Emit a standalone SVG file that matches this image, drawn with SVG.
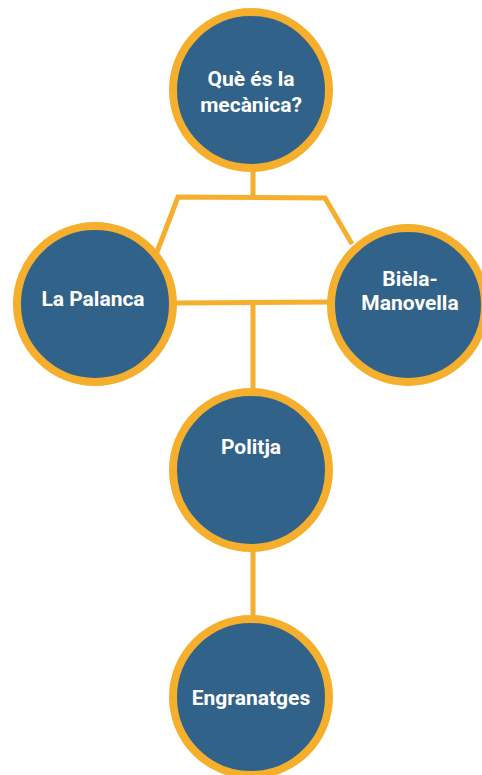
<svg xmlns="http://www.w3.org/2000/svg" width="482" height="775" viewBox="0 0 482 775">
<style>
.n{fill:#31638a;stroke:#f6ae2d;stroke-width:8}
.t{font-family:Roboto,"Liberation Sans",sans-serif;font-weight:bold;font-size:21px;fill:#ffffff;text-anchor:middle}
.c{fill:none;stroke:#f6ae2d;stroke-width:5;stroke-linejoin:miter}
</style>
<rect width="482" height="775" fill="#ffffff"/>
<g id="connectors">
<line class="c" x1="253" y1="170" x2="253" y2="197"/>
<polyline class="c" points="157,252 178,197 325,198 352,244"/>
<line class="c" x1="175" y1="303" x2="331" y2="302"/>
<line class="c" x1="253" y1="302" x2="253" y2="390"/>
<line class="c" x1="253" y1="550" x2="253" y2="618"/>
</g>
<g id="n1"><circle class="n" cx="251" cy="90" r="78"/><text class="t" x="251" y="86">Què és la</text><text class="t" x="251" y="112">mecànica?</text></g>
<g id="n2"><circle class="n" cx="95" cy="304" r="78"/><text class="t" x="93" y="306">La Palanca</text></g>
<g id="n3"><circle class="n" cx="408" cy="305" r="77"/><text class="t" x="410" y="286">Bièla-</text><text class="t" x="410" y="310">Manovella</text></g>
<g id="n4"><circle class="n" cx="251" cy="470" r="78"/><text class="t" x="251" y="454">Politja</text></g>
<g id="n5"><circle class="n" cx="251" cy="697" r="78"/><text class="t" x="251" y="705">Engranatges</text></g>
</svg>
